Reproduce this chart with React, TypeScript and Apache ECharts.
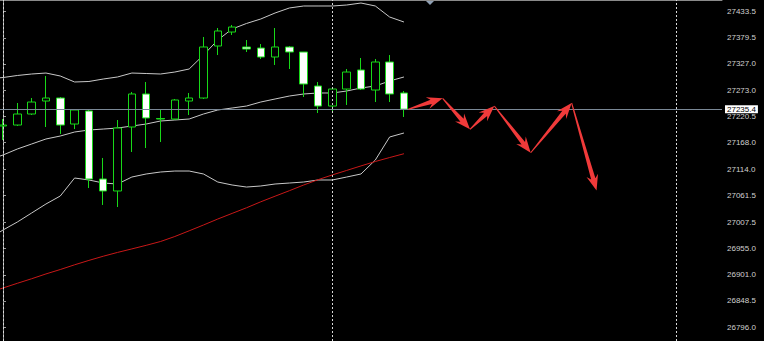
import { useEffect, useRef } from "react";
import * as echarts from "echarts";

// candle index positions (bar number from the left edge)
const candleIndex = [0, 1, 2, 3, 4, 5, 6, 7, 8, 9, 10, 11, 12, 13, 14, 15, 16, 17, 18, 19, 20, 21, 22, 23, 24, 25, 26, 27, 28];
const candleOpen = [27201.5, 27203.5, 27225.7, 27251.9, 27258.0, 27205.5, 27231.8, 27094.6, 27070.4, 27199.5, 27266.1, 27216.6, 27215.6, 27251.9, 27258.0, 27362.9, 27391.1, 27360.9, 27358.8, 27340.7, 27360.9, 27350.8, 27282.2, 27241.8, 27276.1, 27314.5, 27274.1, 27330.6, 27268.1];
const candleClose = [27203.5, 27225.7, 27249.9, 27258.0, 27203.5, 27233.8, 27094.6, 27070.4, 27197.4, 27266.1, 27217.7, 27215.6, 27254.0, 27258.0, 27360.9, 27393.2, 27401.2, 27356.8, 27340.7, 27360.9, 27350.8, 27286.2, 27241.8, 27276.1, 27310.4, 27276.1, 27330.6, 27266.1, 27235.4];
const candleLow = [27173.3, 27201.5, 27223.7, 27199.5, 27185.4, 27195.4, 27076.4, 27042.2, 27038.1, 27149.1, 27157.1, 27169.2, 27213.6, 27223.7, 27256.0, 27344.7, 27385.1, 27350.8, 27336.7, 27324.6, 27316.5, 27260.0, 27227.7, 27227.7, 27243.9, 27274.1, 27249.9, 27249.9, 27219.7];
const candleHigh = [27215.6, 27247.9, 27258.0, 27302.4, 27260.0, 27233.8, 27233.8, 27137.0, 27213.6, 27270.1, 27290.3, 27235.8, 27256.0, 27268.1, 27381.1, 27399.2, 27405.3, 27375.0, 27366.9, 27399.2, 27362.9, 27350.8, 27290.3, 27278.2, 27316.5, 27338.7, 27336.7, 27344.7, 27272.1];

// indicator lines (Bollinger bands + moving average), bar -1 .. 28
const lineIndex = [-1, 0, 1, 2, 3, 4, 5, 6, 7, 8, 9, 10, 11, 12, 13, 14, 15, 16, 17, 18, 19, 20, 21, 22, 23, 24, 25, 26, 27, 28];
const bandUpper = [27297.0, 27299.3, 27303.4, 27306.4, 27308.4, 27302.4, 27290.3, 27291.3, 27296.3, 27300.4, 27308.4, 27307.4, 27306.4, 27310.4, 27316.5, 27344.7, 27375.0, 27397.2, 27408.3, 27417.4, 27429.5, 27439.6, 27443.6, 27443.6, 27443.6, 27445.6, 27449.6, 27443.6, 27421.4, 27411.3];
const bandMiddle = [27133.0, 27143.0, 27155.1, 27165.2, 27175.3, 27181.3, 27189.4, 27193.4, 27195.4, 27197.4, 27201.5, 27205.5, 27211.6, 27213.6, 27215.6, 27225.7, 27233.8, 27237.8, 27241.8, 27249.9, 27256.0, 27262.0, 27266.1, 27268.1, 27268.1, 27272.1, 27278.2, 27282.2, 27292.3, 27300.4];
const bandLower = [26973.5, 26991.7, 27007.8, 27026.0, 27044.2, 27060.3, 27096.6, 27092.6, 27086.5, 27084.5, 27098.6, 27104.7, 27108.7, 27110.7, 27110.7, 27104.7, 27088.5, 27082.5, 27078.4, 27080.5, 27084.5, 27086.5, 27088.5, 27092.6, 27092.6, 27098.6, 27104.7, 27132.9, 27179.3, 27187.4];
const maRed = [26865.2, 26874.7, 26884.2, 26893.4, 26903.1, 26912.0, 26921.5, 26930.4, 26938.8, 26946.5, 26953.6, 26960.8, 26968.5, 26978.6, 26990.1, 27001.8, 27013.9, 27025.2, 27036.5, 27048.6, 27059.9, 27071.0, 27082.5, 27093.2, 27102.8, 27111.9, 27121.0, 27129.9, 27137.9, 27145.6];

// hand-drawn forecast arrows (turning points)
const forecastX = [28.3, 30.7, 32.61, 34.31, 36.85, 39.71, 41.45];
const forecastY = [27235.4, 27257.4, 27194.8, 27241.8, 27147.6, 27247.9, 27071.4];

// axis ticks & current price
const yTicks = [26796.0, 26848.5, 26901.0, 26955.0, 27007.5, 27061.5, 27114.0, 27168.0, 27220.5, 27273.0, 27327.0, 27379.5, 27433.5];
const currentPrice = 27235.4;
const separators = [0, 23, 47];

export default function App() {
  const ref = useRef<HTMLDivElement>(null);
  useEffect(() => {
    if (!ref.current) return;
    const chart = echarts.init(ref.current, null, { renderer: "svg" });

    const candles = candleIndex.map((x, i) => [x, candleOpen[i], candleClose[i], candleLow[i], candleHigh[i]]);
    const mk = (arr: number[]) => lineIndex.map((x, i) => [x, arr[i]]);
    const segs = forecastX.slice(0, -1).map((x, i) => [x, forecastY[i], forecastX[i + 1], forecastY[i + 1]]);

    const lineBase = {
      type: "line",
      showSymbol: false,
      symbol: "none",
      silent: true,
      smooth: false,
    };

    chart.setOption({
      animation: false,
      backgroundColor: "#000000",
      grid: { left: 0, right: 42, top: 0, bottom: 0, containLabel: false },
      xAxis: {
        type: "value",
        min: -0.2095,
        max: 50.21,
        position: "top",
        axisLine: { show: true, lineStyle: { color: "#8a8a8a", width: 1 } },
        axisTick: { show: false },
        axisLabel: { show: false },
        splitLine: { show: false },
      },
      yAxis: {
        type: "value",
        position: "right",
        min: 26767.8,
        max: 27455.7,
        scale: true,
        axisLine: { show: true, lineStyle: { color: "#9a9a9a", width: 1 } },
        axisTick: { show: true, inside: false, length: 3, customValues: yTicks, lineStyle: { color: "#9a9a9a" } },
        axisLabel: {
          show: true,
          customValues: yTicks,
          color: "#d0d0d0",
          fontSize: 8,
          fontFamily: "Liberation Sans, Arial, sans-serif",
          margin: 5,
          formatter: (v: number) => v.toFixed(1),
        },
        splitLine: { show: false },
      },
      graphic: [
        {
          type: "polygon",
          shape: { points: [[426, 1], [434, 1], [430, 5]] },
          style: { fill: "#8fa0b4" },
          silent: true,
        },
      ],
      series: [
        {
          ...lineBase,
          name: "upper",
          data: mk(bandUpper),
          lineStyle: { color: "#c8c8c8", width: 1 },
          z: 3,
          markLine: {
            silent: true,
            symbol: "none",
            label: { show: false },
            lineStyle: { color: "#d8d8d8", type: [2, 2], width: 1 },
            data: separators.map((s) => ({ xAxis: s })),
          },
        },
        { ...lineBase, name: "middle", data: mk(bandMiddle), lineStyle: { color: "#c8c8c8", width: 1 }, z: 3 },
        { ...lineBase, name: "lower", data: mk(bandLower), lineStyle: { color: "#c8c8c8", width: 1 }, z: 3 },
        { ...lineBase, name: "ma", data: mk(maRed), lineStyle: { color: "#c81818", width: 1 }, z: 3 },
        {
          type: "candlestick",
          name: "price",
          data: candles,
          encode: { x: 0, y: [1, 2, 3, 4] },
          barWidth: 8,
          silent: true,
          z: 4,
          itemStyle: {
            color: "#000000",
            color0: "#ffffff",
            borderColor: "#18d818",
            borderColor0: "#18d818",
            borderWidth: 1,
          },
          markLine: {
            silent: true,
            symbol: "none",
            lineStyle: { color: "#7a8896", type: "solid", width: 1 },
            label: {
              show: true,
              position: "end",
              distance: 3,
              formatter: () => currentPrice.toFixed(1),
              backgroundColor: "#ffffff",
              color: "#000000",
              fontSize: 8,
              fontFamily: "Liberation Sans, Arial, sans-serif",
              padding: [0, 2, 0, 2],
              lineHeight: 8,
            },
            data: [{ yAxis: currentPrice }],
          },
        },
        {
          type: "custom",
          name: "forecast",
          data: segs,
          encode: { x: [0, 2], y: [1, 3] },
          silent: true,
          clip: false,
          z: 10,
          renderItem: (_params: any, api: any) => {
            const p0 = api.coord([api.value(0), api.value(1)]);
            const p1 = api.coord([api.value(2), api.value(3)]);
            const dx = p1[0] - p0[0];
            const dy = p1[1] - p0[1];
            const L = Math.hypot(dx, dy) || 1;
            const ux = dx / L, uy = dy / L;
            const nx = -uy, ny = ux;
            const head = Math.min(15, L * 0.45);
            const hw = 6;
            const sw = 2.2;
            const tw = 0.5;
            const nX = p1[0] - ux * head * 0.8, nY = p1[1] - uy * head * 0.8;
            const bX = p1[0] - ux * head * 1.05, bY = p1[1] - uy * head * 1.05;
            const pts = [
              [p0[0] + nx * tw, p0[1] + ny * tw],
              [nX + nx * sw, nY + ny * sw],
              [bX + nx * hw, bY + ny * hw],
              [p1[0], p1[1]],
              [bX - nx * hw, bY - ny * hw],
              [nX - nx * sw, nY - ny * sw],
              [p0[0] - nx * tw, p0[1] - ny * tw],
            ];
            return { type: "polygon", shape: { points: pts }, style: { fill: "#f03a3a" } };
          },
        },
      ],
    });
    return () => chart.dispose();
  }, []);
  return (
    <div
      ref={ref}
      style={{ position: "absolute", left: 0, top: 0, width: 764, height: 341, background: "#000" }}
    />
  );
}
